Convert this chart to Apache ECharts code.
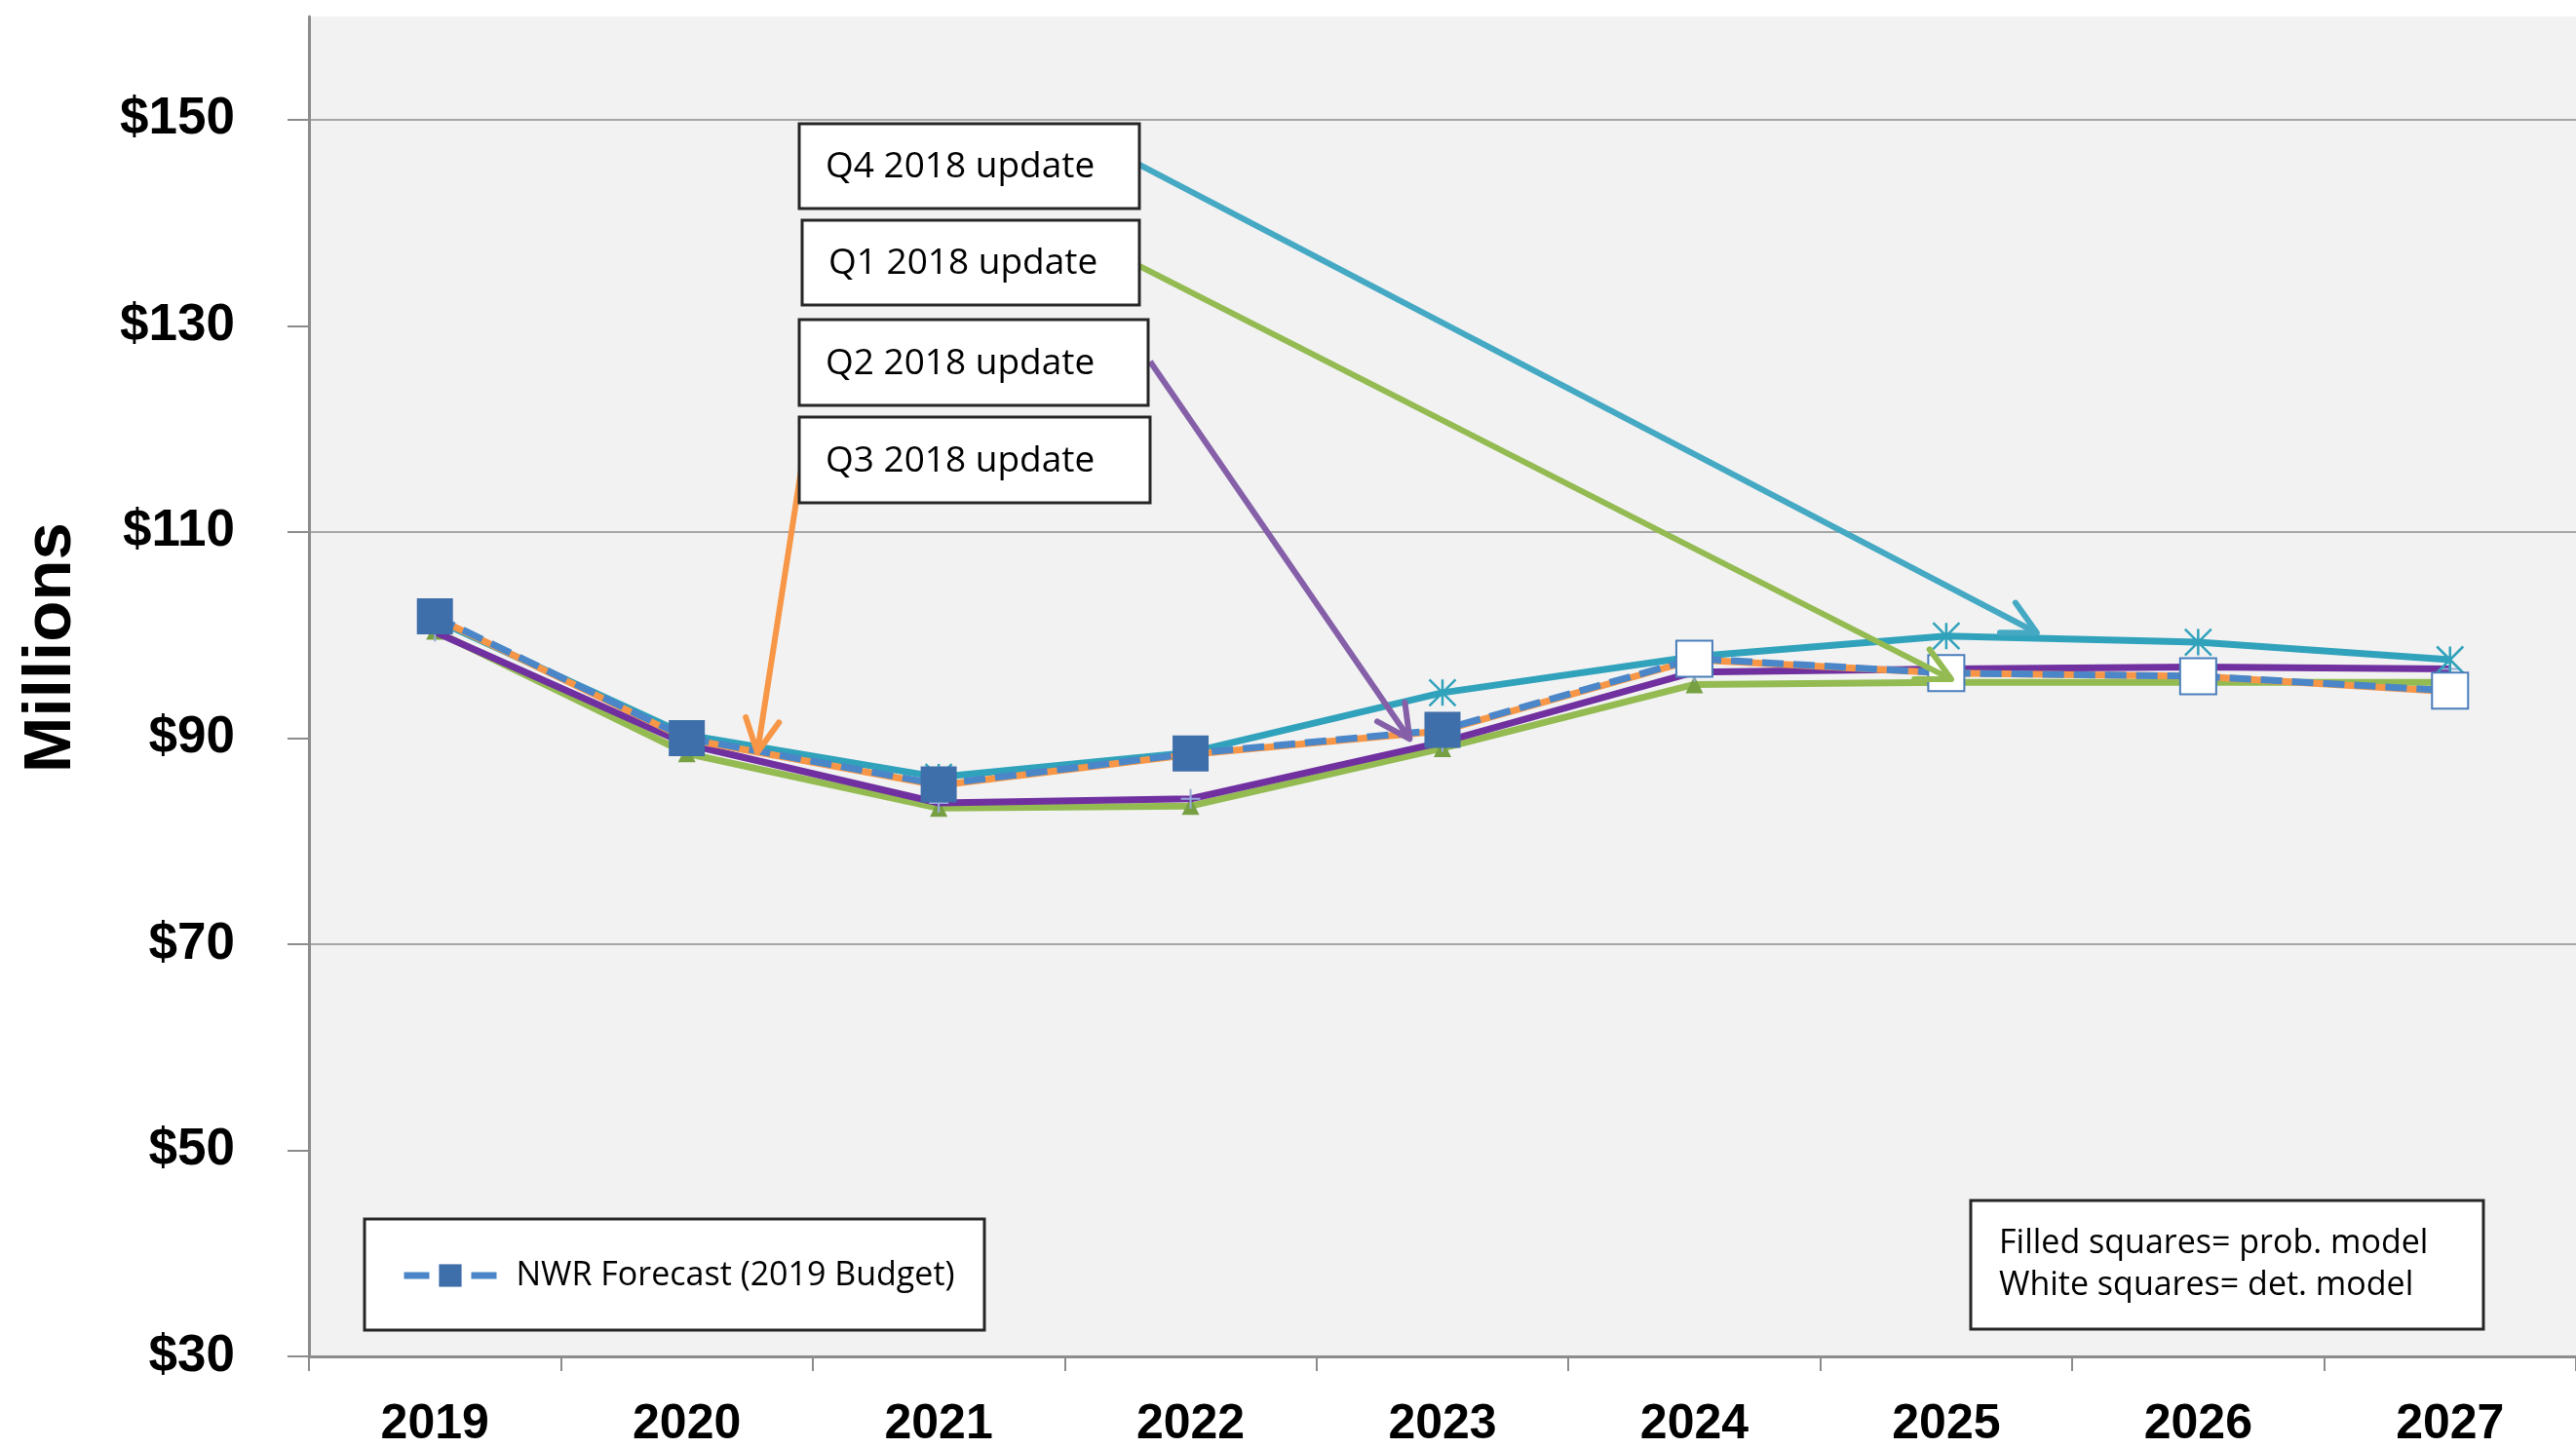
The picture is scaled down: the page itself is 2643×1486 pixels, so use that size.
<!DOCTYPE html>
<html>
<head>
<meta charset="utf-8">
<title>NWR Forecast</title>
<script src="https://cdn.jsdelivr.net/npm/echarts@6/dist/echarts.min.js"></script>
<style>
  html, body { margin: 0; padding: 0; background: #fff; }
  #chart { width: 2643px; height: 1486px; }
</style>
</head>
<body>
<div id="chart"></div>
<script>
// data
const years = ['2019', '2020', '2021', '2022', '2023', '2024', '2025', '2026', '2027']
const nwrForecast = [101.8, 90.0, 85.5, 88.5, 90.8, 97.7, 96.3, 96.0, 94.6]
const q1Update = [100.4, 88.5, 83.2, 83.4, 89.0, 95.2, 95.4, 95.4, 95.4]
const q2Update = [100.3, 89.4, 83.7, 84.1, 89.6, 96.4, 96.7, 96.9, 96.7]
const q3Update = [101.7, 89.9, 85.4, 88.4, 90.7, 97.6, 96.3, 96.0, 94.5]
const q4Update = [101.5, 90.3, 86.2, 88.6, 94.4, 97.9, 99.9, 99.3, 97.6]
const yTicks = [30, 50, 70, 90, 110, 130, 150]
const firstDetYear = '2024' // white squares (det. model) from here on

// callouts: label, and where the arrow points (category index, value)
const calloutLabels = ['Q4 2018 update', 'Q1 2018 update', 'Q2 2018 update', 'Q3 2018 update']
const calloutAtIndex = [6.36, 6.02, 3.87, 1.28]
const calloutAtValue = [100.2, 95.7, 89.9, 88.6]

// box layout for the callouts (pixels)
const calloutBoxes = [
  { x: 820, y: 127, w: 349, h: 87, color: '#45a9c4', fromX: 1169, fromY: 169 },
  { x: 823, y: 226, w: 346, h: 87, color: '#93bb52', fromX: 1169, fromY: 273 },
  { x: 820, y: 328, w: 358, h: 88, color: '#8560a8', fromX: 1180, fromY: 371 },
  { x: 820, y: 428, w: 360, h: 88, color: '#f79646', fromX: 822, fromY: 482 },
]

const starPath = 'path://M0,0L10,10M10,0L0,10M5,0L5,10'
const plusPath = 'path://M5,0L5,10M0,5L10,5'
const boldFont = 'Liberation Sans'
const textFont = 'Open Sans'

const nwrData = nwrForecast.map((v, i) =>
  years[i] >= firstDetYear
    ? { value: v, itemStyle: { color: '#fff', borderColor: '#4a7ebb', borderWidth: 2 } }
    : v
)

const option = {
  animation: false,
  backgroundColor: '#fff',
  grid: {
    left: 317,
    right: 0,
    top: 17,
    bottom: 94,
    show: true,
    backgroundColor: '#f2f2f2',
    borderWidth: 0,
    outerBoundsMode: 'none',
  },
  legend: {
    data: ['NWR Forecast (2019 Budget)'],
    left: 411,
    top: 1292,
    padding: 0,
    itemWidth: 95,
    itemHeight: 29,
    selectedMode: false,
    textStyle: { fontSize: 34, fontFamily: textFont, color: '#000', padding: [0, 0, 0, 15] },
    lineStyle: { color: '#4a86c8', width: 7, type: [26, 43] },
    itemStyle: { color: '#3f6faa' },
  },
  xAxis: {
    type: 'category',
    data: years,
    boundaryGap: true,
    axisLine: { lineStyle: { color: '#8c8c8c', width: 3 } },
    axisTick: { show: true, length: 15, lineStyle: { color: '#8c8c8c', width: 2 } },
    axisLabel: {
      interval: 0,
      margin: 45,
      fontSize: 50,
      fontWeight: 'bold',
      fontFamily: boldFont,
      color: '#000',
    },
    splitLine: { show: false },
  },
  yAxis: {
    type: 'value',
    min: 30,
    max: 160,
    interval: 10,
    name: 'Millions',
    nameLocation: 'middle',
    nameGap: 230,
    // left padding pushes the rotated name up the axis
    nameTextStyle: {
      fontSize: 69,
      fontWeight: 'bold',
      fontFamily: boldFont,
      color: '#000',
      padding: [0, 0, 0, 80],
    },
    axisLine: { show: true, lineStyle: { color: '#8c8c8c', width: 3 } },
    axisTick: {
      show: true,
      length: 22,
      customValues: yTicks,
      lineStyle: { color: '#8c8c8c', width: 2 },
    },
    axisLabel: {
      customValues: yTicks,
      margin: 76,
      fontSize: 53,
      fontWeight: 'bold',
      fontFamily: boldFont,
      color: '#000',
      formatter: (v) => (yTicks.indexOf(v) >= 0 ? '$' + v : ''),
    },
    // ticks run every 10 from 30, only every other one gets a line
    splitLine: { show: true, lineStyle: { color: ['#a6a6a6', 'rgba(0,0,0,0)'], width: 2 } },
  },
  series: [
    {
      name: 'Q1 2018 update',
      type: 'line',
      data: q1Update,
      z: 2,
      symbol: 'triangle',
      symbolSize: 18,
      lineStyle: { color: '#93bb52', width: 7 },
      itemStyle: { color: '#77a043' },
      silent: true,
    },
    {
      name: 'Q2 2018 update',
      type: 'line',
      data: q2Update,
      z: 3,
      symbol: plusPath,
      symbolSize: 20,
      lineStyle: { color: '#7030a0', width: 7 },
      itemStyle: { color: 'rgba(0,0,0,0)', borderColor: '#96addb', borderWidth: 2 },
      silent: true,
    },
    {
      name: 'Q4 2018 update',
      type: 'line',
      data: q4Update,
      z: 4,
      symbol: starPath,
      symbolSize: 27,
      lineStyle: { color: '#31a2bb', width: 7 },
      itemStyle: { color: 'rgba(0,0,0,0)', borderColor: '#31a2bb', borderWidth: 2.5 },
      silent: true,
    },
    {
      name: 'Q3 2018 update',
      type: 'line',
      data: q3Update,
      z: 5,
      symbol: 'none',
      lineStyle: { color: '#f79646', width: 7 },
      silent: true,
    },
    {
      name: 'NWR Forecast (2019 Budget)',
      type: 'line',
      data: nwrData,
      z: 6,
      symbol: 'rect',
      symbolSize: 37,
      lineStyle: { color: '#4a86c8', width: 7, type: [22, 10] },
      itemStyle: { color: '#3f6faa' },
      silent: true,
    },
  ],
}

const myChart = echarts.init(document.getElementById('chart'))
myChart.setOption(option)

// pixel spot for a (fractional) category index and a value
function toPixel(idx, v) {
  const i0 = Math.floor(idx)
  const t = idx - i0
  const p0 = myChart.convertToPixel({ xAxisIndex: 0, yAxisIndex: 0 }, [i0, v])
  const p1 = myChart.convertToPixel({ xAxisIndex: 0, yAxisIndex: 0 }, [i0 + 1, v])
  return [p0[0] + (p1[0] - p0[0]) * t, p0[1]]
}

const graphics = []

// legend frame and the note box
graphics.push({
  type: 'rect',
  z: 3,
  shape: { x: 374, y: 1251, width: 636, height: 114 },
  style: { fill: '#fff', stroke: '#262626', lineWidth: 3 },
})
graphics.push({
  type: 'rect',
  z: 3,
  shape: { x: 2022, y: 1232, width: 526, height: 132 },
  style: { fill: '#fff', stroke: '#262626', lineWidth: 3 },
})
;['Filled squares= prob. model', 'White squares= det. model'].forEach((t, i) => {
  graphics.push({
    type: 'text',
    z: 4,
    x: 2051,
    y: 1276 + i * 43,
    style: { text: t, fontSize: 34, fontFamily: textFont, fill: '#000', verticalAlign: 'middle' },
  })
})

// callout boxes with arrows
calloutBoxes.forEach((b, i) => {
  const tip = toPixel(calloutAtIndex[i], calloutAtValue[i])
  const dx = tip[0] - b.fromX
  const dy = tip[1] - b.fromY
  const len = Math.sqrt(dx * dx + dy * dy)
  const ux = dx / len
  const uy = dy / len
  const arm = 38
  const ang = (27 * Math.PI) / 180
  const head = [-ang, ang].map((a) => {
    const rx = ux * Math.cos(a) - uy * Math.sin(a)
    const ry = ux * Math.sin(a) + uy * Math.cos(a)
    return [tip[0] - rx * arm, tip[1] - ry * arm]
  })
  graphics.push({
    type: 'line',
    z: 20,
    shape: { x1: b.fromX, y1: b.fromY, x2: tip[0], y2: tip[1] },
    style: { stroke: b.color, lineWidth: 6 },
  })
  graphics.push({
    type: 'polyline',
    z: 20,
    shape: { points: [head[0], tip, head[1]] },
    style: { stroke: b.color, lineWidth: 6, fill: null, lineCap: 'round', lineJoin: 'round' },
  })
  graphics.push({
    type: 'rect',
    z: 21,
    shape: { x: b.x, y: b.y, width: b.w, height: b.h },
    style: { fill: '#fff', stroke: '#262626', lineWidth: 3 },
  })
  graphics.push({
    type: 'text',
    z: 22,
    x: b.x + 27,
    y: b.y + b.h / 2 + 1,
    style: {
      text: calloutLabels[i],
      fontSize: 37,
      fontFamily: textFont,
      fill: '#000',
      verticalAlign: 'middle',
    },
  })
})

myChart.setOption({ graphic: graphics })
</script>
</body>
</html>
